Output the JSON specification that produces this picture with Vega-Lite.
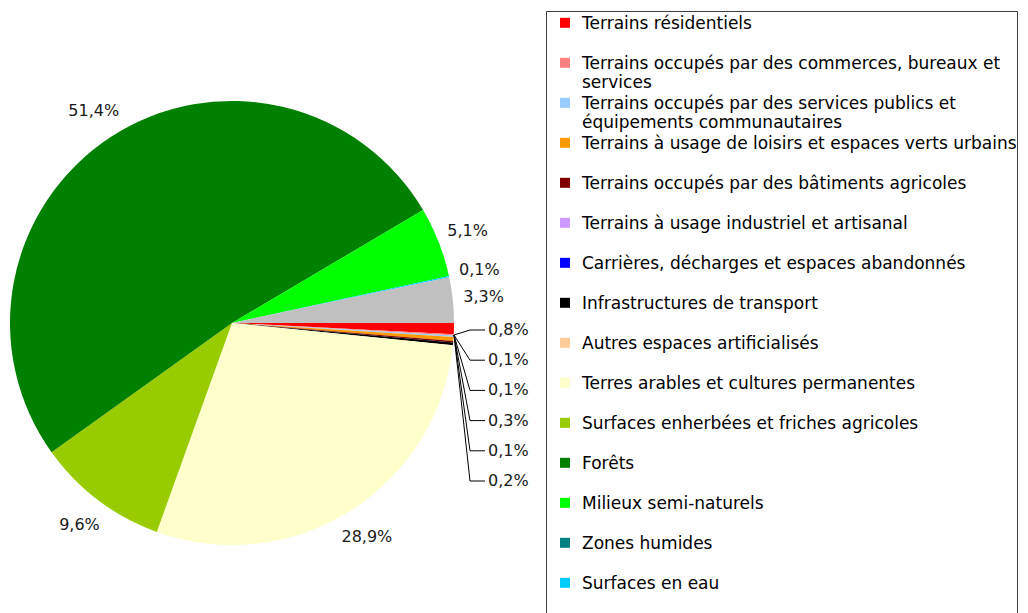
{
  "$schema": "https://vega.github.io/schema/vega-lite/v6.json",
  "autosize": {"type": "none"},
  "width": 464,
  "height": 580,
  "padding": {"left": 0, "top": 33, "right": 564, "bottom": 0},
  "background": "white",
  "config": {"view": {"stroke": null}, "text": {"font": "DejaVu Sans"}},
  "data": {
    "values": [
      {"ordre": 1, "categorie": "Terrains résidentiels", "pct": 0.8, "groupe": "artificiel"},
      {"ordre": 2, "categorie": "Terrains occupés par des commerces, bureaux et services", "pct": 0.1, "groupe": "artificiel"},
      {"ordre": 3, "categorie": "Terrains occupés par des services publics et équipements communautaires", "pct": 0.1, "groupe": "artificiel"},
      {"ordre": 4, "categorie": "Terrains à usage de loisirs et espaces verts urbains", "pct": 0.3, "groupe": "artificiel"},
      {"ordre": 5, "categorie": "Terrains occupés par des bâtiments agricoles", "pct": 0.1, "groupe": "artificiel"},
      {"ordre": 6, "categorie": "Terrains à usage industriel et artisanal", "pct": 0, "groupe": "artificiel"},
      {"ordre": 7, "categorie": "Carrières, décharges et espaces abandonnés", "pct": 0, "groupe": "artificiel"},
      {"ordre": 8, "categorie": "Infrastructures de transport", "pct": 0.2, "groupe": "artificiel"},
      {"ordre": 9, "categorie": "Autres espaces artificialisés", "pct": 0, "groupe": "artificiel"},
      {"ordre": 10, "categorie": "Terres arables et cultures permanentes", "pct": 28.9, "groupe": "agricole"},
      {"ordre": 11, "categorie": "Surfaces enherbées et friches agricoles", "pct": 9.6, "groupe": "agricole"},
      {"ordre": 12, "categorie": "Forêts", "pct": 51.4, "groupe": "naturel"},
      {"ordre": 13, "categorie": "Milieux semi-naturels", "pct": 5.1, "groupe": "naturel"},
      {"ordre": 14, "categorie": "Zones humides", "pct": 0, "groupe": "naturel"},
      {"ordre": 15, "categorie": "Surfaces en eau", "pct": 0.1, "groupe": "naturel"},
      {"ordre": 16, "categorie": "Terrains de nature inconnue", "pct": 3.3, "groupe": "autre"}
    ]
  },
  "transform": [
    {"calculate": "replace(format(datum.pct, '.1f'), '.', ',') + '%'", "as": "label"}
  ],
  "layer": [
    {
      "mark": {"type": "arc", "radius": 222},
      "encoding": {
        "theta": {"field": "pct", "type": "quantitative", "stack": true, "scale": {"range": [1.5707963268, 7.853981634]}},
        "order": {"field": "ordre", "type": "quantitative"},
        "color": {
          "field": "categorie",
          "type": "nominal",
          "scale": {
            "domain": [
              "Terrains résidentiels",
              "Terrains occupés par des commerces, bureaux et services",
              "Terrains occupés par des services publics et équipements communautaires",
              "Terrains à usage de loisirs et espaces verts urbains",
              "Terrains occupés par des bâtiments agricoles",
              "Terrains à usage industriel et artisanal",
              "Carrières, décharges et espaces abandonnés",
              "Infrastructures de transport",
              "Autres espaces artificialisés",
              "Terres arables et cultures permanentes",
              "Surfaces enherbées et friches agricoles",
              "Forêts",
              "Milieux semi-naturels",
              "Zones humides",
              "Surfaces en eau",
              "Terrains de nature inconnue"
            ],
            "range": ["#FF0000", "#FF8080", "#99CCFF", "#FF9900", "#800000", "#CC99FF", "#0000FF", "#000000", "#FFCC99", "#FFFFCC", "#99CC00", "#008000", "#00FF00", "#008080", "#00CCFF", "#C0C0C0"]
          },
          "legend": {
            "title": null,
            "orient": "none",
            "legendX": 546,
            "legendY": -22,
            "columns": 1,
            "gridAlign": "all",
            "rowPadding": -2,
            "padding": 0,
            "strokeColor": "#404040",
            "symbolType": "M-0.278,-0.622H0.278V-0.066H-0.278Z",
            "symbolSize": 1296,
            "symbolStrokeWidth": 0,
            "symbolOffset": 1,
            "labelOffset": -1,
            "labelFont": "DejaVu Sans",
            "labelFontSize": 17,
            "labelColor": "black",
            "labelLimit": 700,
            "labelBaseline": "alphabetic",
            "labelExpr": "split(replace(replace(datum.label, 'bureaux et services', 'bureaux et|services'), 'publics et équipements', 'publics et|équipements'), '|')"
          }
        }
      }
    },
    {
      "mark": {"type": "text", "radius": 253, "fontSize": 16, "font": "DejaVu Sans", "color": "#1a1a1a", "align": "center", "baseline": "middle"},
      "encoding": {
        "theta": {"field": "pct", "type": "quantitative", "stack": true},
        "order": {"field": "ordre", "type": "quantitative"},
        "detail": {"field": "categorie", "type": "nominal"},
        "text": {"condition": {"test": "datum.groupe == 'artificiel' || datum.pct == 0", "value": ""}, "field": "label"}
      }
    },
    {
      "transform": [{"filter": "datum.groupe == 'artificiel' && datum.pct > 0"}],
      "mark": {"type": "rule", "color": "black", "strokeWidth": 1},
      "encoding": {
        "x": {"value": 470},
        "x2": {"value": 454},
        "y": {"field": "categorie", "type": "nominal", "sort": {"field": "ordre"}, "scale": {"type": "point", "range": [297, 448], "padding": 0}, "axis": null},
        "y2": {"value": 302}
      }
    },
    {
      "transform": [{"filter": "datum.groupe == 'artificiel' && datum.pct > 0"}],
      "mark": {"type": "rule", "color": "black", "strokeWidth": 1},
      "encoding": {
        "x": {"value": 470},
        "x2": {"value": 485},
        "y": {"field": "categorie", "type": "nominal", "sort": {"field": "ordre"}, "axis": null}
      }
    },
    {
      "transform": [{"filter": "datum.groupe == 'artificiel' && datum.pct > 0"}],
      "mark": {"type": "text", "align": "left", "baseline": "middle", "fontSize": 16, "font": "DejaVu Sans", "color": "#1a1a1a"},
      "encoding": {
        "x": {"value": 488},
        "y": {"field": "categorie", "type": "nominal", "sort": {"field": "ordre"}, "axis": null},
        "text": {"field": "label"}
      }
    }
  ]
}
